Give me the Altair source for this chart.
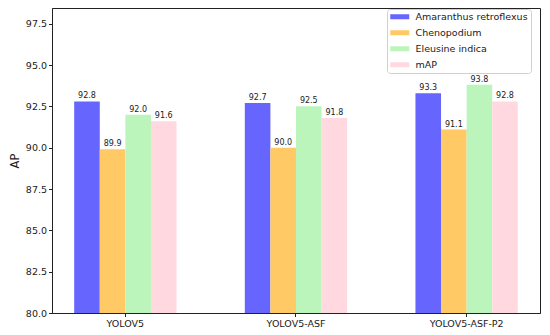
import altair as alt
import pandas as pd

categories = ["YOLOV5", "YOLOV5-ASF", "YOLOV5-ASF-P2"]
series = ["Amaranthus retroflexus", "Chenopodium", "Eleusine indica", "mAP"]
amaranthus = [92.8, 92.7, 93.3]
chenopodium = [89.9, 90.0, 91.1]
eleusine = [92.0, 92.5, 93.8]
map_vals = [91.6, 91.8, 92.8]
colors = ["#6666ff", "#ffc966", "#bcf5bc", "#ffd9df"]
y_ticks = [80.0, 82.5, 85.0, 87.5, 90.0, 92.5, 95.0, 97.5]

rows = []
for s, vals in zip(series, [amaranthus, chenopodium, eleusine, map_vals]):
    for c, v in zip(categories, vals):
        rows.append({"model": c, "series": s, "AP": v})
df = pd.DataFrame(rows)

FONT = "DejaVu Sans"
TXT = "#1a1a1a"

x = alt.X("model:N", sort=categories, title=None,
          scale=alt.Scale(paddingInner=0.4, paddingOuter=0.13),
          axis=alt.Axis(labelAngle=0, labelFontSize=9.5, labelColor=TXT,
                        tickColor="#222", tickSize=3.5, domain=True,
                        domainColor="#222", domainWidth=1,
                        labelPadding=2, labelFont=FONT))
xo = alt.XOffset("series:N", sort=series,
                 scale=alt.Scale(paddingInner=0, paddingOuter=0))
y = alt.Y("AP:Q", title="AP",
          scale=alt.Scale(domain=[80, 98.45], zero=False, nice=False),
          axis=alt.Axis(values=y_ticks, format=".1f", labelFontSize=9.5,
                        labelColor=TXT, tickColor="#222", tickSize=3.5,
                        domain=True, domainColor="#222", domainWidth=1,
                        grid=False, labelPadding=2,
                        labelFont=FONT, titleFont=FONT, titleFontSize=11.5,
                        titleFontWeight="normal", titleColor=TXT,
                        titleX=-37, titleY=152.5, titleAngle=-90,
                        titleAlign="center", titleBaseline="middle"))

color = alt.Color("series:N", sort=series,
                  scale=alt.Scale(domain=series, range=colors),
                  legend=alt.Legend(
                      title=None, orient="none", legendX=335, legendY=1,
                      symbolType="M-2.11,-0.556L2.11,-0.556L2.11,0.556L-2.11,0.556Z",
                      symbolSize=81, symbolStrokeWidth=0, symbolOpacity=1,
                      symbolOffset=5, labelOffset=11,
                      labelFontSize=9.5, labelFont=FONT, labelColor=TXT,
                      rowPadding=5, padding=3, fillColor="white",
                      strokeColor="#d0d0d0", cornerRadius=3, labelLimit=300))

base = alt.Chart(df)
bars = base.mark_bar(clip=True, opacity=1).encode(x=x, xOffset=xo, y=y, color=color)
labels = base.mark_text(baseline="bottom", dy=-1, fontSize=8, font=FONT,
                        color=TXT).encode(
    x=x, xOffset=xo, y=y, text=alt.Text("AP:Q", format=".1f"))

chart = alt.layer(bars, labels).properties(
    width=488, height=305,
    autosize=alt.AutoSizeParams(type="none"),
    padding={"left": 44, "top": 0, "right": 2, "bottom": 20},
    view=alt.ViewBackground(stroke="#222222", strokeWidth=1),
).configure_view(stroke="#222222", strokeWidth=1).configure(background="white")

chart.save("out.html", embed_options={"renderer": "svg", "actions": False})
